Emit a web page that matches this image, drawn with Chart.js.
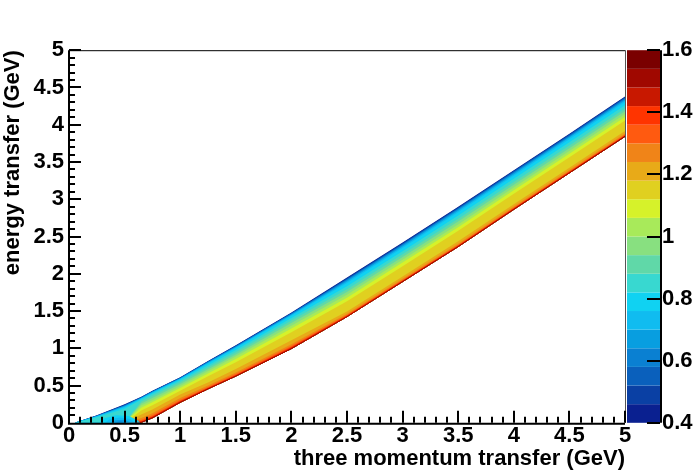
<!DOCTYPE html>
<html><head><meta charset="utf-8">
<script src="https://cdn.jsdelivr.net/npm/chart.js@4/dist/chart.umd.min.js"></script>
<style>html,body{margin:0;padding:0;background:#fff}canvas{display:block}</style>
</head><body>
<canvas id="c" width="696" height="473"></canvas>
<script>
// ---- axis / tick data ----
const xTickValues = [0,0.5,1,1.5,2,2.5,3,3.5,4,4.5,5];
const xTickLabels = ['0','0.5','1','1.5','2','2.5','3','3.5','4','4.5','5'];
const yTickValues = [0,0.5,1,1.5,2,2.5,3,3.5,4,4.5,5];
const yTickLabels = ['0','0.5','1','1.5','2','2.5','3','3.5','4','4.5','5'];
const zTickValues = [0.4,0.6,0.8,1.0,1.2,1.4,1.6];
const zTickLabels = ['0.4','0.6','0.8','1','1.2','1.4','1.6'];
const xTitle = 'three momentum transfer (GeV)';
const yTitle = 'energy transfer (GeV)';

// ---- contour levels and palette (colour k fills [levels[k], levels[k+1]]) ----
const levels = [0.40,0.46,0.52,0.58,0.64,0.70,0.76,0.82,0.88,0.94,1.00,1.06,1.12,1.18,1.24,1.30,1.36,1.42,1.48,1.54,1.60];
const palette = ['#0a2090','#0a40a4','#0a60bc','#0a80d2','#089ee0','#10bcf0','#10d2f2','#38d8d0','#60d8a8','#88e080',
                 '#a8ea5a','#d6f22a','#e0d020','#e8aa18','#f08418','#ff5a10','#ff3400','#c81800','#a00800','#7a0000'];

// ---- band geometry (GeV) ----
const q3Grid     = [0.05, 0.25, 0.50, 0.65, 0.75, 1.00, 1.25, 1.50, 2.00, 2.50, 3.00, 3.50, 4.00, 4.50, 5.00];
const topEdge    = [0.00, 0.10, 0.25, 0.35, 0.43, 0.61, 0.83, 1.04, 1.48, 1.95, 2.42, 2.90, 3.39, 3.88, 4.38]; // z = 0.4 contour
const bottomEdge = [0.00, 0.00, 0.00, 0.00, 0.06, 0.27, 0.45, 0.62, 0.99, 1.42, 1.89, 2.36, 2.86, 3.35, 3.84]; // z = 1.6 contour (or axis)
const profileOfColumn = [0, 0, 0, 1, 1, 1, 2, 2, 2, 3, 3, 3, 3, 3, 3];
// fractional position (0 = top edge, 1 = bottom edge) of the contours 0.46 ... 1.54
const profileLowLeft = [0.03,0.05,0.07,0.09,0.12,0.16,0.25,1,1,1,1,1,1,1,1,1,1,1,1];
const profileLow     = [0.01,0.02,0.03,0.04,0.055,0.07,0.11,0.18,0.26,0.34,0.42,0.53,0.68,0.82,0.89,0.93,0.955,0.972,0.988];
const profileMid     = [0.01,0.02,0.03,0.045,0.06,0.09,0.15,0.22,0.29,0.36,0.44,0.54,0.76,0.87,0.92,0.945,0.962,0.976,0.99];
const profileHigh    = [0.015,0.03,0.05,0.07,0.10,0.14,0.22,0.30,0.37,0.44,0.51,0.60,0.86,0.92,0.95,0.965,0.975,0.985,0.993];
const profiles = [profileLowLeft, profileLow, profileMid, profileHigh];

// low-z pocket sitting on the axis at small q3 : [colour index, outline points [q3, nu]]
const pocketCyan  = [[0.27,0],[0.32,0.06],[0.42,0.10],[0.54,0.09],[0.62,0.03],[0.64,0]];
const pocketLight = [[0.32,0],[0.37,0.05],[0.46,0.07],[0.55,0.05],[0.60,0]];
const pocketBlue  = [[0.37,0],[0.42,0.035],[0.50,0.04],[0.56,0]];
const pocketDark  = [[0.41,0],[0.46,0.02],[0.52,0]];
const pockets = [[6,pocketCyan],[5,pocketLight],[4,pocketBlue],[3,pocketDark]];

// ---- build datasets ----
function contourNu(k, j){ // k: boundary index 0..20
  if (k === 0) return topEdge[j];
  if (k === 20) return bottomEdge[j];
  const f = profiles[profileOfColumn[j]][k-1];
  return topEdge[j] + f*(bottomEdge[j]-topEdge[j]);
}
const datasets = [];
for (let k = 0; k < 20; k++) {
  const pts = [];
  for (let j = 0; j < q3Grid.length; j++) pts.push({x:q3Grid[j], y:contourNu(k,j)});
  for (let j = q3Grid.length-1; j >= 0; j--) pts.push({x:q3Grid[j], y:bottomEdge[j]});
  datasets.push({data:pts, showLine:true, fill:'shape', backgroundColor:palette[k],
    borderColor:'rgba(0,0,0,0)', borderWidth:0, pointRadius:0, order:100-k, xAxisID:'x', yAxisID:'y'});
}
pockets.forEach(([ci, outline], i) => {
  datasets.push({data:outline.map(p=>({x:p[0],y:p[1]})), showLine:true, fill:'shape', backgroundColor:palette[ci],
    borderColor:'rgba(0,0,0,0)', borderWidth:0, pointRadius:0, order:-1-i, xAxisID:'x', yAxisID:'y'});
});

const FONT = '"Liberation Sans", Arial, Helvetica, sans-serif';

const axesPlugin = {
  id:'rootAxes',
  afterDatasetsDraw(chart){
    const {ctx, chartArea:a, scales:{x, y, z}} = chart;
    ctx.save();
    // colour bar
    const cbL = 627, cbR = 660;
    for (let k = 0; k < 20; k++) {
      const y1 = z.getPixelForValue(levels[k]), y2 = z.getPixelForValue(levels[k+1]);
      ctx.fillStyle = palette[k];
      ctx.fillRect(cbL, y2, cbR-cbL, y1-y2);
    }
    ctx.strokeStyle = '#000';
    ctx.lineWidth = 2;
    ctx.beginPath(); ctx.moveTo(cbR+1, a.top); ctx.lineTo(cbR+1, a.bottom); ctx.stroke();
    zTickValues.forEach(v => { const py = Math.round(z.getPixelForValue(v)); ctx.beginPath(); ctx.moveTo(cbR, py); ctx.lineTo(cbR-13, py); ctx.stroke(); });
    // frame
    ctx.lineWidth = 1;
    ctx.strokeStyle = '#000';
    ctx.beginPath(); ctx.moveTo(a.left, a.top+0.5); ctx.lineTo(a.right, a.top+0.5); ctx.stroke();
    ctx.strokeStyle = '#555';
    ctx.beginPath(); ctx.moveTo(a.right+0.5, a.top); ctx.lineTo(a.right+0.5, a.bottom); ctx.stroke();
    // axes lines
    ctx.strokeStyle = '#000';
    ctx.lineWidth = 2;
    ctx.beginPath(); ctx.moveTo(a.left, a.top); ctx.lineTo(a.left, a.bottom+1); ctx.lineTo(a.right, a.bottom+1); ctx.stroke();
    // ticks
    for (let i = 0; i <= 50; i++) {
      const v = i/10, major = (i % 5 === 0), len = major ? 12 : 6;
      const px = Math.round(x.getPixelForValue(v));
      if (i > 0) { ctx.beginPath(); ctx.moveTo(px, a.bottom); ctx.lineTo(px, a.bottom-len); ctx.stroke(); }
      const py = Math.round(y.getPixelForValue(v));
      if (i > 0) { ctx.beginPath(); ctx.moveTo(a.left, py); ctx.lineTo(a.left+len, py); ctx.stroke(); }
    }
    ctx.restore();
  }
};

const tickFont = {family:FONT, size:22, weight:'bold'};
const titleFont = {family:FONT, size:22, weight:'bold'};

new Chart(document.getElementById('c'), {
  type:'scatter',
  data:{datasets},
  plugins:[axesPlugin],
  options:{
    responsive:false, animation:false, devicePixelRatio:1,
    layout:{padding:{left:0,right:0,top:47,bottom:0}},
    plugins:{legend:{display:false}, tooltip:{enabled:false}},
    scales:{
      x:{type:'linear', position:'bottom', min:0, max:5,
        afterBuildTicks:s=>{s.ticks = xTickValues.map(v=>({value:v}));},
        afterFit:s=>{s.height = 49;},
        ticks:{callback:(v,i)=>xTickLabels[i], font:tickFont, color:'#000', padding:0, maxRotation:0, autoSkip:false},
        grid:{display:false, drawTicks:false}, border:{display:false},
        title:{display:true, text:xTitle, align:'end', color:'#000', font:titleFont, padding:{top:0,bottom:0}}},
      y:{type:'linear', position:'left', min:0, max:5,
        afterBuildTicks:s=>{s.ticks = yTickValues.map(v=>({value:v}));},
        afterFit:s=>{s.width = 69;},
        ticks:{callback:(v,i)=>yTickLabels[i], font:tickFont, color:'#000', padding:5, autoSkip:false},
        grid:{display:false, drawTicks:false}, border:{display:false},
        title:{display:true, text:yTitle, align:'end', color:'#000', font:titleFont, padding:{top:0,bottom:0}}},
      z:{type:'linear', position:'right', min:0.4, max:1.6,
        afterBuildTicks:s=>{s.ticks = zTickValues.map(v=>({value:v}));},
        afterFit:s=>{s.width = 71;},
        ticks:{callback:(v,i)=>zTickLabels[i], font:tickFont, color:'#000', padding:37, autoSkip:false},
        grid:{display:false, drawTicks:false}, border:{display:false}}
    }
  }
});
</script>
</body></html>
